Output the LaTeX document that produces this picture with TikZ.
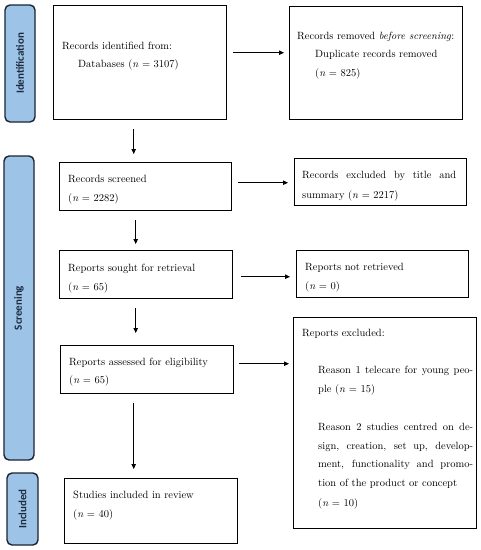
\documentclass[tikz,border=0pt]{standalone}
\usepackage{fontspec}
\newfontfamily\labelfont{Carlito}
\usetikzlibrary{arrows.meta}
\definecolor{sidefill}{HTML}{9DC3E6}
\definecolor{sidedraw}{HTML}{1A2433}
\definecolor{sidetext}{HTML}{1B2A40}
\tikzset{
  box/.style={draw=black, line width=1.4pt, anchor=north west, inner sep=0pt},
  side/.style={draw=sidedraw, fill=sidefill, line width=1.4pt, rounded corners=5pt,
    rotate=90, inner sep=0pt, font=\labelfont\bfseries\fontsize{11}{13}\selectfont, text=sidetext},
  txt/.style={anchor=base west, inner sep=0pt, font=\fontsize{10.5}{12}\selectfont},
  arr/.style={line width=0.9pt, -{Triangle[length=5pt,width=4.5pt]}},
}
\newcommand{\jline}[2]{\makebox[#1][s]{#2}}
\begin{document}
\begin{tikzpicture}[x=1pt,y=-1pt]
\useasboundingbox (0,0) rectangle (481,550);
% side labels
\node[side, minimum width=117pt, minimum height=30pt] (sid) at (20,63.5) {Identification};
\node[side, minimum width=304pt, minimum height=30pt] (sscr) at (19,308) {Screening};
\node[side, minimum width=72pt, minimum height=31pt] (sinc) at (22.5,509) {Included};
% boxes
\node[box, minimum width=173pt, minimum height=114pt] (b1) at (53,5) {};
\node[box, minimum width=173pt, minimum height=113pt] (b2) at (289,6) {};
\node[box, minimum width=172pt, minimum height=48pt] (b3) at (59,162) {};
\node[box, minimum width=172pt, minimum height=47pt] (b4) at (294,158) {};
\node[box, minimum width=173pt, minimum height=48pt] (b5) at (59,250) {};
\node[box, minimum width=172pt, minimum height=47pt] (b6) at (296,250) {};
\node[box, minimum width=173pt, minimum height=48pt] (b7) at (60,345) {};
\node[box, minimum width=183pt, minimum height=211pt] (b8) at (293,317) {};
\node[box, minimum width=173pt, minimum height=65pt] (b9) at (64,478) {};
% texts
\node[txt] (t1a) at (62,49) {Records identified from:};
\node[txt] (t1b) at (78,67) {Databases (\textit{n} = 3107)};
\node[txt] (t2a) at (297,39) {Records removed \textit{before screening}:};
\node[txt] (t2b) at (315,57) {Duplicate records removed};
\node[txt] (t2c) at (315,76) {(\textit{n} = 825)};
\node[txt] (t3a) at (68,182) {Records screened};
\node[txt] (t3b) at (68,201) {(\textit{n} = 2282)};
\node[txt] (t4a) at (302,178) {\jline{154pt}{Records excluded by title and}};
\node[txt] (t4b) at (302,198) {summary (\textit{n} = 2217)};
\node[txt] (t5a) at (68,271) {Reports sought for retrieval};
\node[txt] (t5b) at (68,290) {(\textit{n} = 65)};
\node[txt] (t6a) at (305,270) {Reports not retrieved};
\node[txt] (t6b) at (305,289) {(\textit{n} = 0)};
\node[txt] (t7a) at (69,365) {Reports assessed for eligibility};
\node[txt] (t7b) at (69,383) {(\textit{n} = 65)};
\node[txt] (t8a) at (302,336) {Reports excluded:};
\node[txt] (t8b) at (318,373) {\jline{155pt}{Reason 1 telecare for young peo-}};
\node[txt] (t8c) at (318,392) {ple (\textit{n} = 15)};
\node[txt] (t8d) at (318,430) {\jline{155pt}{Reason 2 studies centred on de-}};
\node[txt] (t8e) at (318,449) {\jline{155pt}{sign, creation, set up, develop-}};
\node[txt] (t8f) at (318,467) {\jline{155pt}{ment, functionality and promo-}};
\node[txt] (t8g) at (318,486) {tion of the product or concept};
\node[txt] (t8h) at (318,506) {(\textit{n} = 10)};
\node[txt] (t9a) at (73,498) {Studies included in review};
\node[txt] (t9b) at (73,517) {(\textit{n} = 40)};
% arrows
\draw[arr, shorten <=6pt, shorten >=5pt] ([yshift=10pt]b1.east) -- ([yshift=10pt]b1.east -| b2.west);
\draw[arr, shorten <=9pt, shorten >=8pt] ([xshift=-6.5pt]b1.south) -- ([xshift=-6.5pt]b1.south |- b3.north);
\draw[arr, shorten <=6pt, shorten >=6pt] ([yshift=4pt]b3.east) -- ([yshift=4pt]b3.east -| b4.west);
\draw[arr, shorten <=9pt, shorten >=6pt] ([xshift=-10pt]b3.south) -- ([xshift=-10pt]b3.south |- b5.north);
\draw[arr, shorten <=8pt, shorten >=6pt] ([yshift=-2pt]b5.east) -- ([yshift=-2pt]b5.east -| b6.west);
\draw[arr, shorten <=9pt, shorten >=12pt] ([xshift=-10.5pt]b5.south) -- ([xshift=-10.5pt]b5.south |- b7.north);
\draw[arr, shorten <=5pt, shorten >=4pt] ([yshift=6pt]b7.east) -- ([yshift=6pt]b7.east -| b8.west);
\draw[arr, shorten <=9pt, shorten >=9pt] ([xshift=-13.5pt]b7.south) -- ([xshift=-13.5pt]b7.south |- b9.north);
\end{tikzpicture}
\end{document}
